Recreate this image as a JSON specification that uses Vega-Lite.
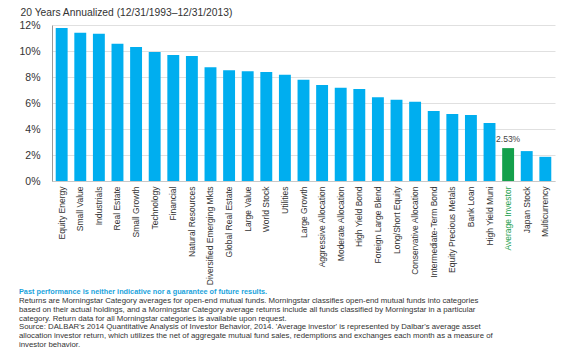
{
  "$schema": "https://vega.github.io/schema/vega-lite/v6.json",
  "autosize": "none",
  "width": 503,
  "height": 156,
  "padding": {"left": 52, "top": 25, "right": 20, "bottom": 169},
  "background": "white",
  "data": {"values": [
    {"category": "Equity Energy", "ret": 0.1177},
    {"category": "Small Value", "ret": 0.1140},
    {"category": "Industrials", "ret": 0.1133},
    {"category": "Real Estate", "ret": 0.1055},
    {"category": "Small Growth", "ret": 0.1031},
    {"category": "Technology", "ret": 0.0992},
    {"category": "Financial", "ret": 0.0969},
    {"category": "Natural Resources", "ret": 0.0961},
    {"category": "Diversified Emerging Mkts", "ret": 0.0875},
    {"category": "Global Real Estate", "ret": 0.0852},
    {"category": "Large Value", "ret": 0.0844},
    {"category": "World Stock", "ret": 0.0839},
    {"category": "Utilities", "ret": 0.0818},
    {"category": "Large Growth", "ret": 0.0779},
    {"category": "Aggressive Allocation", "ret": 0.0738},
    {"category": "Moderate Allocation", "ret": 0.0717},
    {"category": "High Yield Bond", "ret": 0.0707},
    {"category": "Foreign Large Blend", "ret": 0.0645},
    {"category": "Long/Short Equity", "ret": 0.0625},
    {"category": "Conservative Allocation", "ret": 0.0609},
    {"category": "Intermediate-Term Bond", "ret": 0.0539},
    {"category": "Equity Precious Metals", "ret": 0.0516},
    {"category": "Bank Loan", "ret": 0.0508},
    {"category": "High Yield Muni", "ret": 0.0446},
    {"category": "Average Investor", "ret": 0.0253},
    {"category": "Japan Stock", "ret": 0.0230},
    {"category": "Multicurrency", "ret": 0.0186}
  ]},
  "title": {
    "text": "Past performance is neither indicative nor a guarantee of future results.",
    "subtitle": [
      "Returns are Morningstar Category averages for open-end mutual funds. Morningstar classifies open-end mutual funds into categories",
      "based on their actual holdings, and a Morningstar Category average returns include all funds classified by Morningstar in a particular",
      "category. Return data for all Morningstar categories is available upon request.",
      "Source: DALBAR's 2014 Quantitative Analysis of Investor Behavior, 2014. 'Average investor' is represented by Dalbar's average asset",
      "allocation investor return, which utilizes the net of aggregate mutual fund sales, redemptions and exchanges each month as a measure of",
      "investor behavior."
    ],
    "orient": "bottom",
    "anchor": "start",
    "frame": "bounds",
    "offset": 3,
    "font": "Liberation Sans",
    "fontSize": 7.3,
    "fontWeight": "bold",
    "color": "#1AA3DC",
    "subtitleFont": "Liberation Sans",
    "subtitleFontSize": 7.8,
    "subtitleColor": "#333333",
    "subtitleLineHeight": 8.8,
    "subtitlePadding": 2
  },
  "encoding": {
    "x": {
      "field": "category",
      "type": "nominal",
      "sort": null,
      "scale": {"paddingInner": 0.36, "paddingOuter": 0.2},
      "axis": {
        "title": null,
        "labelAngle": -90,
        "labelFont": "Liberation Sans",
        "labelFontSize": 8.5,
        "labelColor": {"condition": {"test": "datum.value === 'Average Investor'", "value": "#1BA04E"}, "value": "#333333"},
        "ticks": false,
        "labelPadding": 5,
        "domainColor": "#C8C8C8",
        "grid": false
      }
    },
    "y": {
      "field": "ret",
      "type": "quantitative",
      "scale": {"domain": [0, 0.12], "nice": false},
      "axis": {
        "title": "20 Years Annualized  (12/31/1993\u201312/31/2013)",
        "titleAngle": 0,
        "titleAlign": "left",
        "titleBaseline": "middle",
        "titleX": -32,
        "titleY": -13,
        "titleFont": "Liberation Sans",
        "titleFontSize": 10.3,
        "titleFontWeight": "normal",
        "titleColor": "#333333",
        "values": [0, 0.02, 0.04, 0.06, 0.08, 0.10, 0.12],
        "format": ".0%",
        "labelFont": "Liberation Sans",
        "labelFontSize": 10.5,
        "labelColor": "#333333",
        "labelPadding": 12,
        "ticks": false,
        "domainColor": "#999999",
        "gridColor": "#E0E0E0"
      }
    }
  },
  "layer": [
    {
      "mark": {"type": "bar"},
      "encoding": {
        "color": {
          "condition": {"test": "datum.category === 'Average Investor'", "value": "#14A04B"},
          "value": "#00AEEF"
        }
      }
    },
    {
      "transform": [{"filter": "datum.category === 'Average Investor'"}],
      "mark": {"type": "text", "dy": -9, "font": "Liberation Sans", "fontSize": 8.5, "color": "#444444"},
      "encoding": {"text": {"field": "ret", "type": "quantitative", "format": ".2%"}}
    }
  ],
  "config": {"view": {"stroke": null}}
}
